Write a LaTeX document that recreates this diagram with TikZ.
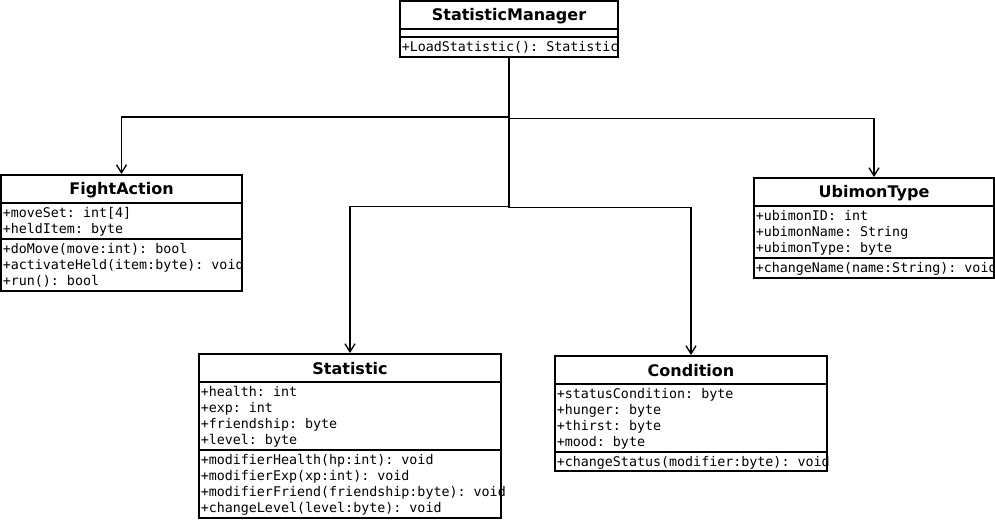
\documentclass[tikz,border=0pt]{standalone}
\usepackage{fontspec}
\setmainfont{DejaVu Sans}
\newfontfamily\monof{DejaVu Sans Mono}
\usetikzlibrary{arrows.meta,fit}
\tikzset{
  px/.style={x=0.75pt,y=-0.75pt},
  classframe/.style={draw,line width=1.5pt,inner sep=0pt,rectangle},
  sepline/.style={line width=1.5pt},
  ctitle/.style={inner sep=0pt,anchor=center,font=\fontsize{12}{14}\selectfont\bfseries},
  member/.style={inner sep=0pt,anchor=base west,font=\fontsize{10}{12}\selectfont\monof\frenchspacing},
  conn/.style={line width=1pt,-{Straight Barb[length=6pt,width=7.5pt,line width=1pt]}},
}
\begin{document}
\begin{tikzpicture}[px]
\useasboundingbox[fill=white] (0,0) rectangle (995,519);

% ---------- StatisticManager ----------
\coordinate (sm-nw) at (400,1); \coordinate (sm-se) at (618,57);
\begin{scope}
\clip (400,1) rectangle (620,57);
\node[ctitle] (sm-t) at (509,16) {StatisticManager};
\node[member] (sm-m1) at (401.5,51) {+LoadStatistic(): Statistic};
\end{scope}
\node[classframe,fit=(sm-nw)(sm-se)] (sm) {};
\draw[sepline] (400,29) -- (618,29);
\draw[sepline] (400,37) -- (618,37);

% ---------- FightAction ----------
\coordinate (fa-nw) at (1,175); \coordinate (fa-se) at (242,291);
\begin{scope}
\clip (1,175) rectangle (245,291);
\node[ctitle] (fa-t) at (121.5,190) {FightAction};
\node[member] (fa-a1) at (2.5,217) {+moveSet: int[4]};
\node[member] (fa-a2) at (2.5,233) {+heldItem: byte};
\node[member] (fa-m1) at (2.5,253) {+doMove(move:int): bool};
\node[member] (fa-m2) at (2.5,269) {+activateHeld(item:byte): void};
\node[member] (fa-m3) at (2.5,285) {+run(): bool};
\end{scope}
\node[classframe,fit=(fa-nw)(fa-se)] (fa) {};
\draw[sepline] (1,203) -- (242,203);
\draw[sepline] (1,239) -- (242,239);

% ---------- UbimonType ----------
\coordinate (ut-nw) at (754,178); \coordinate (ut-se) at (994,278);
\begin{scope}
\clip (754,178) rectangle (995,278);
\node[ctitle] (ut-t) at (874,193) {UbimonType};
\node[member] (ut-a1) at (755.5,220) {+ubimonID: int};
\node[member] (ut-a2) at (755.5,236) {+ubimonName: String};
\node[member] (ut-a3) at (755.5,252) {+ubimonType: byte};
\node[member] (ut-m1) at (755.5,272) {+changeName(name:String): void};
\end{scope}
\node[classframe,fit=(ut-nw)(ut-se)] (ut) {};
\draw[sepline] (754,206) -- (994,206);
\draw[sepline] (754,258) -- (994,258);

% ---------- Statistic ----------
\coordinate (st-nw) at (199,354); \coordinate (st-se) at (501,518);
\begin{scope}
\clip (199,354) rectangle (506,518);
\node[ctitle] (st-t) at (350,369) {Statistic};
\node[member] (st-a1) at (200.5,396) {+health: int};
\node[member] (st-a2) at (200.5,412) {+exp: int};
\node[member] (st-a3) at (200.5,428) {+friendship: byte};
\node[member] (st-a4) at (200.5,444) {+level: byte};
\node[member] (st-m1) at (200.5,464) {+modifierHealth(hp:int): void};
\node[member] (st-m2) at (200.5,480) {+modifierExp(xp:int): void};
\node[member] (st-m3) at (200.5,496) {+modifierFriend(friendship:byte): void};
\node[member] (st-m4) at (200.5,512) {+changeLevel(level:byte): void};
\end{scope}
\node[classframe,fit=(st-nw)(st-se)] (st) {};
\draw[sepline] (199,382) -- (501,382);
\draw[sepline] (199,450) -- (501,450);

% ---------- Condition ----------
\coordinate (co-nw) at (555,356); \coordinate (co-se) at (827,471);
\begin{scope}
\clip (555,356) rectangle (831,471);
\node[ctitle] (co-t) at (691,371) {Condition};
\node[member] (co-a1) at (556.5,398) {+statusCondition: byte};
\node[member] (co-a2) at (556.5,414) {+hunger: byte};
\node[member] (co-a3) at (556.5,430) {+thirst: byte};
\node[member] (co-a4) at (556.5,446) {+mood: byte};
\node[member] (co-m1) at (556.5,466) {+changeStatus(modifier:byte): void};
\end{scope}
\node[classframe,fit=(co-nw)(co-se)] (co) {};
\draw[sepline] (555,384) -- (827,384);
\draw[sepline] (555,452) -- (827,452);

% ---------- connectors ----------
\draw[conn] (sm.south) -- ++(0,59) -| (fa.north);
\draw[conn] (sm.south) -- ++(0,60.5) -| (ut.north);
\draw[conn] (sm.south) -- ++(0,148.5) -| (st.north);
\draw[conn] (sm.south) -- ++(0,149.5) -| (co.north);
\end{tikzpicture}
\end{document}
